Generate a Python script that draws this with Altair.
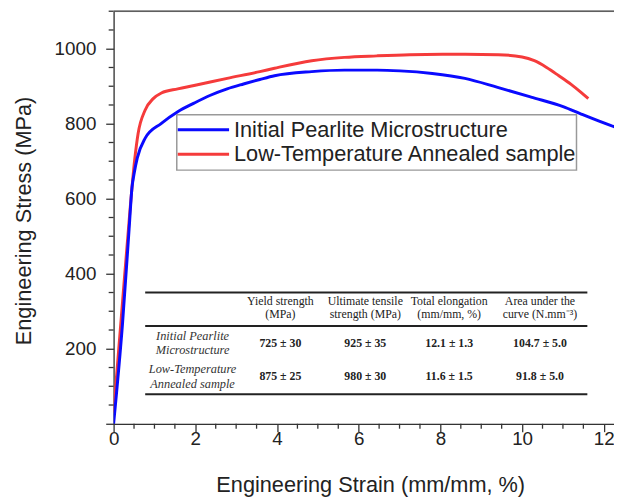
import altair as alt
import pandas as pd

# ---------------- data ----------------
series_names = ["Initial Pearlite Microstructure", "Low-Temperature Annealed sample"]
series_colors = ["#0a0aff", "#f53b3b"]

blue_strain = [0.0, 0.22, 0.38, 0.45, 0.50, 0.58, 0.77, 1.17, 1.57, 1.97, 2.37, 2.78, 3.18,
               3.58, 3.94, 4.85, 5.65, 6.45, 7.01, 7.8, 8.6, 9.4, 10.22, 11.02, 11.42, 12.18, 12.4]
blue_stress = [0, 270, 520, 630, 666, 709, 761, 801, 832, 855, 876, 893, 906,
               918, 928, 939, 943, 943, 941, 934, 921, 897, 871, 845, 827, 795, 787]

red_strain = [0.0, 0.2, 0.40, 0.52, 0.60, 0.77, 0.97, 1.17, 1.57, 1.97, 2.78, 3.58, 3.94,
              4.85, 5.65, 6.45, 7.25, 8.05, 8.61, 9.42, 10.0, 10.3, 10.6, 10.9, 11.2, 11.45, 11.62]
red_stress = [30, 300, 568, 708, 774, 836, 867, 882, 893, 902, 921, 939, 948,
              968, 977, 981, 984, 985, 985, 984, 978, 968, 950, 928, 905, 883, 867]

x_major = [0, 2, 4, 6, 8, 10, 12]
x_minor = [0.5, 1, 1.5, 2.5, 3, 3.5, 4.5, 5, 5.5, 6.5, 7, 7.5, 8.5, 9, 9.5, 10.5, 11, 11.5]
y_major = [0, 200, 400, 600, 800, 1000]
y_minor = [50, 100, 150, 250, 300, 350, 450, 500, 550, 650, 700, 750, 850, 900, 950, 1050, 1100]

table_header = ["Yield strength\n(MPa)", "Ultimate tensile\nstrength (MPa)",
                "Total elongation\n(mm/mm, %)", "Area under the\ncurve (N.mm\u207b\u00b3)"]
table_rows = ["Initial Pearlite\nMicrostructure", "Low-Temperature\nAnnealed sample"]
table_values = [["725 \u00b1 30", "925  \u00b1 35", "12.1 \u00b1 1.3", "104.7 \u00b1 5.0"],
                ["875 \u00b1 25", "980 \u00b1 30", "11.6 \u00b1 1.5", "91.8 \u00b1 5.0"]]

# ---------------- layout ----------------
W, H = 507, 418
XMAX, YMAX = 12.25, 1100
AX = "#333333"
SANS = "Liberation Sans"
SERIF = "Liberation Serif"

col_x = [80, 169, 255, 340, 432]
header_line_y = [294, 307]
row_line_y = [[329, 343], [363, 378]]
value_y = [336, 370]
rule_y = [285, 319, 388]
rule_x0, rule_x1 = 32, 480

leg_box = (64, 469, 105, 161)
leg_sym_x = (65, 117)
leg_row_y = [120, 145]
leg_text_x = 122

# ---------------- frames ----------------
curves = pd.concat([
    pd.DataFrame({"strain": red_strain, "stress": red_stress, "sample": series_names[1], "o": 0}),
    pd.DataFrame({"strain": blue_strain, "stress": blue_stress, "sample": series_names[0], "o": 1}),
])

xscale = alt.Scale(domain=[0, XMAX], nice=False, zero=False)
yscale = alt.Scale(domain=[0, YMAX], nice=False)

lines = alt.Chart(curves).mark_line(strokeWidth=3, clip=True, interpolate="monotone").encode(
    x=alt.X("strain:Q", scale=xscale,
            axis=alt.Axis(values=x_major, title="Engineering Strain (mm/mm, %)", grid=False,
                          labelFontSize=19, labelFont=SANS, labelColor="#222",
                          labelFlush=False, labelOverlap=False, labelBound=False,
                          tickSize=8, labelPadding=-2, tickColor=AX, tickWidth=1.3,
                          domainColor=AX, domainWidth=1.3, format="d",
                          titleFontSize=22, titleFont=SANS, titleFontWeight="normal",
                          titleColor="#222", titleX=260, titleY=69,
                          titleBaseline="alphabetic", titleAlign="center")),
    y=alt.Y("stress:Q", scale=yscale,
            axis=alt.Axis(values=y_major, title="Engineering Stress (MPa)", grid=False,
                          labelFontSize=19, labelFont=SANS, labelColor="#222",
                          labelFlush=False, labelOverlap=False, labelBound=False,
                          labelExpr="datum.value == 0 ? '' : datum.label",
                          tickSize=8, labelPadding=10, tickColor=AX, tickWidth=1.3,
                          domainColor=AX, domainWidth=1.3, format="d",
                          titleFontSize=22, titleFont=SANS, titleFontWeight="normal",
                          titleColor="#222", titleX=-84, titleY=212, titleAngle=-90,
                          titleBaseline="alphabetic", titleAlign="center")),
    color=alt.Color("sample:N", scale=alt.Scale(domain=series_names, range=series_colors),
                    legend=None),
    detail="o:N",
    order="o:Q",
)

xminor = alt.Chart(pd.DataFrame({"strain": x_minor})).mark_rule(color=AX, strokeWidth=1.3).encode(
    x=alt.X("strain:Q", scale=xscale), y=alt.value(H), y2=alt.value(H + 5))
yminor = alt.Chart(pd.DataFrame({"stress": y_minor})).mark_rule(color=AX, strokeWidth=1.3).encode(
    y=alt.Y("stress:Q", scale=yscale), x=alt.value(0), x2=alt.value(-5))

top_border = alt.Chart(pd.DataFrame({"k": [0]})).mark_rule(color=AX, strokeWidth=1.3).encode(
    x=alt.value(0), x2=alt.value(W), y=alt.value(0))

# legend (drawn as a boxed key)
leg_rect = alt.Chart(pd.DataFrame({"k": [0]})).mark_rect(
    fill="white", stroke="#999999", strokeWidth=1.5).encode(
    x=alt.value(leg_box[0]), x2=alt.value(leg_box[1]),
    y=alt.value(leg_box[2]), y2=alt.value(leg_box[3]))
leg_df = pd.DataFrame({"name": series_names, "c": series_colors, "ly": leg_row_y})
leg_lines = alt.Chart(leg_df).mark_rule(strokeWidth=3).encode(
    x=alt.value(leg_sym_x[0]), x2=alt.value(leg_sym_x[1]),
    y=alt.Y("ly:Q", scale=None, axis=None), color=alt.Color("c:N", scale=None))
leg_text = alt.Chart(leg_df).mark_text(font=SANS, fontSize=22, color="#222", align="left",
                                       baseline="middle").encode(
    x=alt.value(leg_text_x), y=alt.Y("ly:Q", scale=None, axis=None), text="name:N")

# table
rules = alt.Chart(pd.DataFrame({"ry": rule_y})).mark_rule(color="#222", strokeWidth=2).encode(
    y=alt.Y("ry:Q", scale=None, axis=None), x=alt.value(rule_x0), x2=alt.value(rule_x1))

hdr_rows = []
for ci, t in enumerate(table_header):
    for li, part in enumerate(t.split("\n")):
        hdr_rows.append({"t": part, "tx": col_x[ci + 1], "ty": header_line_y[li]})
hdr = alt.Chart(pd.DataFrame(hdr_rows)).mark_text(font=SERIF, fontSize=12, color="#222",
                                                  baseline="middle", align="center").encode(
    x=alt.X("tx:Q", scale=None, axis=None), y=alt.Y("ty:Q", scale=None, axis=None), text="t:N")

rl_rows = []
for ri, t in enumerate(table_rows):
    for li, part in enumerate(t.split("\n")):
        rl_rows.append({"t": part, "tx": col_x[0], "ty": row_line_y[ri][li]})
rl = alt.Chart(pd.DataFrame(rl_rows)).mark_text(font=SERIF, fontSize=12.5, fontStyle="italic",
                                                color="#333", baseline="middle",
                                                align="center").encode(
    x=alt.X("tx:Q", scale=None, axis=None), y=alt.Y("ty:Q", scale=None, axis=None), text="t:N")

vals = []
for ri, row in enumerate(table_values):
    for ci, v in enumerate(row):
        vals.append({"t": v, "tx": col_x[ci + 1], "ty": value_y[ri]})
val = alt.Chart(pd.DataFrame(vals)).mark_text(font=SERIF, fontSize=12, fontWeight="bold",
                                              color="#222", baseline="middle",
                                              align="center").encode(
    x=alt.X("tx:Q", scale=None, axis=None), y=alt.Y("ty:Q", scale=None, axis=None), text="t:N")

chart = alt.layer(lines, xminor, yminor, top_border, leg_rect, leg_lines, leg_text,
                  rules, hdr, rl, val).properties(
    width=W, height=H,
    autosize=alt.AutoSizeParams(type="none"),
    padding={"left": 107, "top": 0, "right": 0, "bottom": 77},
).configure_view(stroke=None).configure(background="white")

chart.save("out.html", embed_options={"renderer": "svg", "actions": False})
